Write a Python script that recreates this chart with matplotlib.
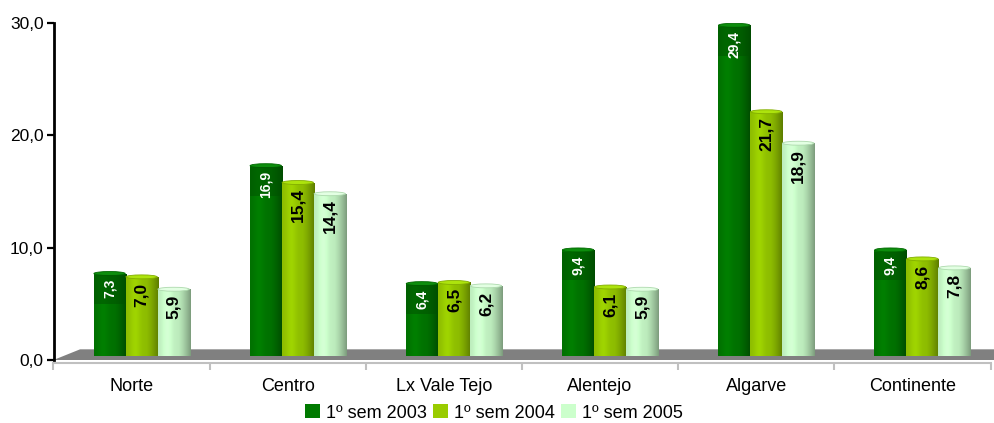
import numpy as np
import matplotlib
matplotlib.use("Agg")
import matplotlib.pyplot as plt
from matplotlib.patches import Polygon, Ellipse, Rectangle, Patch
from matplotlib.colors import to_rgb
from matplotlib.ticker import FuncFormatter

plt.rcParams['font.family'] = ['Liberation Sans', 'DejaVu Sans']

# Data
regions = ["Norte", "Centro", "Lx Vale Tejo", "Alentejo", "Algarve", "Continente"]
sem2003 = [7.3, 16.9, 6.4, 9.4, 29.4, 9.4]
sem2004 = [7.0, 15.4, 6.5, 6.1, 21.7, 8.6]
sem2005 = [5.9, 14.4, 6.2, 5.9, 18.9, 7.8]
series_labels = ["1º sem 2003", "1º sem 2004", "1º sem 2005"]
series_colors = ["#007A00", "#99CC00", "#CCFFCC"]
text_colors = ["white", "black", "black"]

# 3D look settings
depth_y = 0.95      # floor depth in data units (y)
depth_x = 0.17      # floor depth in category units (x)
bar_base = 0.40     # bars sit in the middle of the floor
bar_shift = 0.064
bar_w = 0.205
cap_h = 0.35


def shade_profile(color, n=64):
    base = np.array(to_rgb(color))
    t = np.linspace(0, 1, n)
    f = 0.92 + 0.12 * np.exp(-((t - 0.28) / 0.18) ** 2) - 0.30 * np.clip((t - 0.62) / 0.38, 0, 1) ** 1.3
    rgb = np.clip(base[None, :] * f[:, None], 0, 1)
    # thin light stripes of the cylinder facets
    for pos in (0.08, 0.22, 0.5, 0.8, 0.9):
        k = int(pos * (n - 1))
        rgb[k] = np.clip(rgb[k] + 0.18, 0, 1)
    return rgb[None, :, :]


fig = plt.figure(figsize=(9.94, 4.23), dpi=100)
ax = fig.add_axes([53.5 / 994, 63 / 423, 937 / 994, 337 / 423])
ax.set_xlim(-0.5, 5.5)
ax.set_ylim(0, 30)

# grey floor
floor = Polygon([(-0.5, 0), (5.6, 0), (5.6 + depth_x, depth_y), (-0.5 + depth_x, depth_y)],
                closed=True, facecolor="#808080", edgecolor="none", clip_on=False, zorder=1)
ax.add_patch(floor)

x = np.arange(len(regions))
all_series = [sem2003, sem2004, sem2005]
for i, (vals, col, tcol) in enumerate(zip(all_series, series_colors, text_colors)):
    xs = x + bar_shift + (i - 1) * bar_w
    bars = ax.bar(xs, vals, width=bar_w, bottom=bar_base, color=col, edgecolor="none", zorder=2)
    prof = shade_profile(col)
    for b, v in zip(bars, vals):
        x0 = b.get_x()
        im = ax.imshow(prof, extent=(x0, x0 + bar_w, bar_base, bar_base + v),
                       aspect="auto", zorder=3, interpolation="nearest")
        im.set_clip_path(b)
        top = bar_base + v
        cap = Ellipse((x0 + bar_w / 2, top), bar_w * 0.98, cap_h,
                      facecolor=np.clip(np.array(to_rgb(col)) * 1.05 + 0.05, 0, 1),
                      edgecolor=np.array(to_rgb(col)) * 0.85, linewidth=0.6, zorder=4)
        ax.add_patch(cap)
        if i == 0:
            ax.add_patch(Rectangle((x0, top - 2.7), bar_w, 2.55, facecolor="#005000",
                                   edgecolor="none", alpha=0.5, zorder=4))
        label = f"{v:.1f}".replace(".", ",")
        ax.text(x0 + bar_w / 2, top - 0.5, label, rotation=90, ha="center", va="top",
                color=tcol, fontsize=10 if i == 0 else 12.5, fontweight="bold", zorder=5)

# axes styling
ax.set_yticks([0, 10, 20, 30])
ax.yaxis.set_major_formatter(FuncFormatter(lambda v, p: f"{v:.1f}".replace(".", ",")))
ax.tick_params(axis="y", direction="out", length=5, width=1.6, color="black", labelsize=12.5, pad=2)
ax.spines["left"].set_linewidth(2)
ax.spines["left"].set_color("black")
ax.spines["right"].set_visible(False)
ax.spines["top"].set_visible(False)
ax.spines["bottom"].set_color("#C0C0C0")
ax.spines["bottom"].set_linewidth(1.5)
ax.spines["bottom"].set_position(("outward", 2))

ax.set_xticks(np.arange(-0.5, 6.0, 1.0))
ax.set_xticklabels([])
ax.tick_params(axis="x", which="major", direction="out", length=5, width=1.5, color="#C0C0C0")
ax.set_xticks(x, minor=True)
ax.set_xticklabels(regions, minor=True)
ax.tick_params(axis="x", which="minor", length=0, labelsize=13, pad=11)

handles = [Patch(facecolor=c, edgecolor="none", label=l) for c, l in zip(series_colors, series_labels)]
fig.legend(handles=handles, loc="center", bbox_to_anchor=(0.497, 1 - 413 / 423), ncol=3,
           frameon=False, fontsize=13, handlelength=0.8, handleheight=0.8,
           handletextpad=0.35, columnspacing=0.35, borderaxespad=0)

fig.savefig("out.png", dpi=100)
